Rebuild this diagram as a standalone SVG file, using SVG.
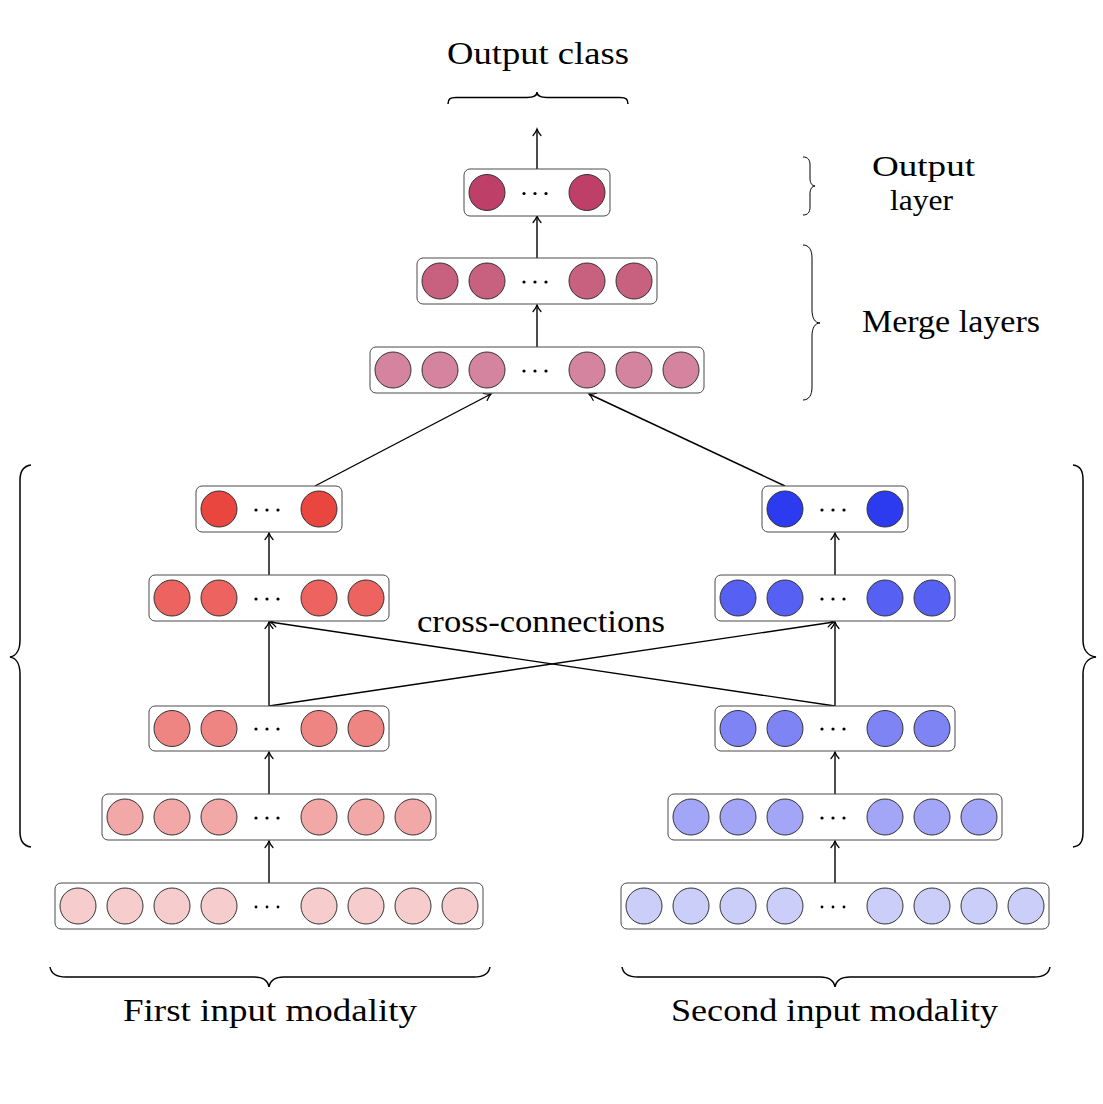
<svg xmlns="http://www.w3.org/2000/svg" width="1103" height="1104" viewBox="0 0 1103 1104">
<style>
.box{fill:#fff;stroke:#4a4a4a;stroke-width:1}
.n{stroke:#333;stroke-width:1}
.dot{fill:#000}
.lbl{font-family:"Liberation Serif","Times New Roman",serif;font-size:32px;fill:#000}
.c{fill:none;stroke:#000;stroke-width:1.4}
.br{fill:none;stroke:#000;stroke-width:1.5}
.brt{fill:none;stroke:#000;stroke-width:1}
.out{fill:#BE4068}.m2{fill:#C8607F}.m1{fill:#D4849E}
.r5{fill:#EA4640}.r4{fill:#EC635F}.r3{fill:#EF8583}.r2{fill:#F3A8A8}.r1{fill:#F7CCCD}
.b5{fill:#2C3AF0}.b4{fill:#5661F3}.b3{fill:#7F84F5}.b2{fill:#A3A6F7}.b1{fill:#CCCEFA}
</style>
<defs>
<marker id="ah" markerUnits="userSpaceOnUse" viewBox="-8 -5 10 10" refX="0" refY="0" markerWidth="10" markerHeight="10" orient="auto">
<path d="M-6.5,-4 C-4,-1.8 -1.5,-0.5 0,0 C-1.5,0.5 -4,1.8 -6.5,4" fill="none" stroke="#000" stroke-width="1.2" stroke-linecap="round"/>
</marker>
</defs>

<g id="connectors">
<line class="c" x1="269" y1="883" x2="269" y2="841" marker-end="url(#ah)"/>
<line class="c" x1="269" y1="794" x2="269" y2="752" marker-end="url(#ah)"/>
<line class="c" x1="269" y1="706" x2="269" y2="622" marker-end="url(#ah)"/>
<line class="c" x1="269" y1="575" x2="269" y2="533" marker-end="url(#ah)"/>
<line class="c" x1="835" y1="883" x2="835" y2="841" marker-end="url(#ah)"/>
<line class="c" x1="835" y1="794" x2="835" y2="752" marker-end="url(#ah)"/>
<line class="c" x1="835" y1="706" x2="835" y2="622" marker-end="url(#ah)"/>
<line class="c" x1="835" y1="575" x2="835" y2="533" marker-end="url(#ah)"/>
<line class="c" x1="269" y1="706" x2="834" y2="622" marker-end="url(#ah)"/>
<line class="c" x1="835" y1="706" x2="270" y2="622" marker-end="url(#ah)"/>
<line class="c" x1="315" y1="486" x2="491" y2="394" marker-end="url(#ah)"/>
<line class="c" x1="785" y1="486" x2="589" y2="394" marker-end="url(#ah)"/>
<line class="c" x1="537" y1="347" x2="537" y2="305" marker-end="url(#ah)"/>
<line class="c" x1="537" y1="258" x2="537" y2="216" marker-end="url(#ah)"/>
<line class="c" x1="537" y1="169" x2="537" y2="129" marker-end="url(#ah)"/>
</g>

<g id="left-input">
<rect class="box" x="55" y="883" width="428" height="46" rx="6"/>
<circle class="n r1" cx="78" cy="906" r="18"/><circle class="n r1" cx="125" cy="906" r="18"/><circle class="n r1" cx="172" cy="906" r="18"/><circle class="n r1" cx="219" cy="906" r="18"/>
<circle class="n r1" cx="319" cy="906" r="18"/><circle class="n r1" cx="366" cy="906" r="18"/><circle class="n r1" cx="413" cy="906" r="18"/><circle class="n r1" cx="460" cy="906" r="18"/>
<circle class="dot" cx="256" cy="907" r="1.4"/><circle class="dot" cx="267" cy="907" r="1.4"/><circle class="dot" cx="278" cy="907" r="1.4"/>
</g>
<g id="left-l1">
<rect class="box" x="102" y="794" width="334" height="46" rx="6"/>
<circle class="n r2" cx="125" cy="817" r="18"/><circle class="n r2" cx="172" cy="817" r="18"/><circle class="n r2" cx="219" cy="817" r="18"/>
<circle class="n r2" cx="319" cy="817" r="18"/><circle class="n r2" cx="366" cy="817" r="18"/><circle class="n r2" cx="413" cy="817" r="18"/>
<circle class="dot" cx="256" cy="818" r="1.6"/><circle class="dot" cx="267" cy="818" r="1.6"/><circle class="dot" cx="278" cy="818" r="1.6"/>
</g>
<g id="left-l2">
<rect class="box" x="149" y="706" width="240" height="45" rx="6"/>
<circle class="n r3" cx="172" cy="728.5" r="18"/><circle class="n r3" cx="219" cy="728.5" r="18"/>
<circle class="n r3" cx="319" cy="728.5" r="18"/><circle class="n r3" cx="366" cy="728.5" r="18"/>
<circle class="dot" cx="256" cy="729" r="1.6"/><circle class="dot" cx="267" cy="729" r="1.6"/><circle class="dot" cx="278" cy="729" r="1.6"/>
</g>
<g id="left-l3">
<rect class="box" x="149" y="575" width="240" height="46" rx="6"/>
<circle class="n r4" cx="172" cy="598" r="18"/><circle class="n r4" cx="219" cy="598" r="18"/>
<circle class="n r4" cx="319" cy="598" r="18"/><circle class="n r4" cx="366" cy="598" r="18"/>
<circle class="dot" cx="256" cy="599" r="1.6"/><circle class="dot" cx="267" cy="599" r="1.6"/><circle class="dot" cx="278" cy="599" r="1.6"/>
</g>
<g id="left-l4">
<rect class="box" x="196" y="486" width="146" height="46" rx="6"/>
<circle class="n r5" cx="219" cy="509" r="18"/><circle class="n r5" cx="319" cy="509" r="18"/>
<circle class="dot" cx="256" cy="510" r="1.6"/><circle class="dot" cx="267" cy="510" r="1.6"/><circle class="dot" cx="278" cy="510" r="1.6"/>
</g>

<g id="right-input">
<rect class="box" x="621" y="883" width="428" height="46" rx="6"/>
<circle class="n b1" cx="644" cy="906" r="18"/><circle class="n b1" cx="691" cy="906" r="18"/><circle class="n b1" cx="738" cy="906" r="18"/><circle class="n b1" cx="785" cy="906" r="18"/>
<circle class="n b1" cx="885" cy="906" r="18"/><circle class="n b1" cx="932" cy="906" r="18"/><circle class="n b1" cx="979" cy="906" r="18"/><circle class="n b1" cx="1026" cy="906" r="18"/>
<circle class="dot" cx="822" cy="907" r="1.4"/><circle class="dot" cx="833" cy="907" r="1.4"/><circle class="dot" cx="844" cy="907" r="1.4"/>
</g>
<g id="right-l1">
<rect class="box" x="668" y="794" width="334" height="46" rx="6"/>
<circle class="n b2" cx="691" cy="817" r="18"/><circle class="n b2" cx="738" cy="817" r="18"/><circle class="n b2" cx="785" cy="817" r="18"/>
<circle class="n b2" cx="885" cy="817" r="18"/><circle class="n b2" cx="932" cy="817" r="18"/><circle class="n b2" cx="979" cy="817" r="18"/>
<circle class="dot" cx="822" cy="818" r="1.6"/><circle class="dot" cx="833" cy="818" r="1.6"/><circle class="dot" cx="844" cy="818" r="1.6"/>
</g>
<g id="right-l2">
<rect class="box" x="715" y="706" width="240" height="45" rx="6"/>
<circle class="n b3" cx="738" cy="728.5" r="18"/><circle class="n b3" cx="785" cy="728.5" r="18"/>
<circle class="n b3" cx="885" cy="728.5" r="18"/><circle class="n b3" cx="932" cy="728.5" r="18"/>
<circle class="dot" cx="822" cy="729" r="1.6"/><circle class="dot" cx="833" cy="729" r="1.6"/><circle class="dot" cx="844" cy="729" r="1.6"/>
</g>
<g id="right-l3">
<rect class="box" x="715" y="575" width="240" height="46" rx="6"/>
<circle class="n b4" cx="738" cy="598" r="18"/><circle class="n b4" cx="785" cy="598" r="18"/>
<circle class="n b4" cx="885" cy="598" r="18"/><circle class="n b4" cx="932" cy="598" r="18"/>
<circle class="dot" cx="822" cy="599" r="1.6"/><circle class="dot" cx="833" cy="599" r="1.6"/><circle class="dot" cx="844" cy="599" r="1.6"/>
</g>
<g id="right-l4">
<rect class="box" x="762" y="486" width="146" height="46" rx="6"/>
<circle class="n b5" cx="785" cy="509" r="18"/><circle class="n b5" cx="885" cy="509" r="18"/>
<circle class="dot" cx="822" cy="510" r="1.6"/><circle class="dot" cx="833" cy="510" r="1.6"/><circle class="dot" cx="844" cy="510" r="1.6"/>
</g>

<g id="merge-1">
<rect class="box" x="370" y="347" width="334" height="46" rx="6"/>
<circle class="n m1" cx="393" cy="370" r="18"/><circle class="n m1" cx="440" cy="370" r="18"/><circle class="n m1" cx="487" cy="370" r="18"/>
<circle class="n m1" cx="587" cy="370" r="18"/><circle class="n m1" cx="634" cy="370" r="18"/><circle class="n m1" cx="681" cy="370" r="18"/>
<circle class="dot" cx="524" cy="371" r="1.6"/><circle class="dot" cx="535" cy="371" r="1.6"/><circle class="dot" cx="546" cy="371" r="1.6"/>
</g>
<g id="merge-2">
<rect class="box" x="417" y="258" width="240" height="46" rx="6"/>
<circle class="n m2" cx="440" cy="281" r="18"/><circle class="n m2" cx="487" cy="281" r="18"/>
<circle class="n m2" cx="587" cy="281" r="18"/><circle class="n m2" cx="634" cy="281" r="18"/>
<circle class="dot" cx="524" cy="282" r="1.6"/><circle class="dot" cx="535" cy="282" r="1.6"/><circle class="dot" cx="546" cy="282" r="1.6"/>
</g>
<g id="output">
<rect class="box" x="464" y="169" width="146" height="47" rx="6"/>
<circle class="n out" cx="487" cy="192.5" r="18"/><circle class="n out" cx="587" cy="192.5" r="18"/>
<circle class="dot" cx="524" cy="193.5" r="1.6"/><circle class="dot" cx="535" cy="193.5" r="1.6"/><circle class="dot" cx="546" cy="193.5" r="1.6"/>
</g>

<g id="braces">
<path class="br" d="M448,104 C448,99 450,97.5 456,97.5 L527,97.5 C534,97.5 537,95 537,92 C537,95 540,97.5 547,97.5 L620,97.5 C626,97.5 628,99 628,104"/>
<path class="brt" d="M803,157 C808,157 810,160 810,165 L810,178 C810,183 812,186 815,186 C812,186 810,189 810,194 L810,207 C810,212 808,215 803,215"/>
<path class="brt" d="M803,245 C809,245 812,250 812,258 L812,310 C812,318 815,323 820,323 C815,323 812,328 812,336 L812,387 C812,395 809,400 803,400"/>
<path class="br" d="M31,465 C24,466 20,470 20,480 L20,640 C20,650 16,656 10,657 C16,658 20,664 20,674 L20,832 C20,842 24,846 31,847"/>
<path class="br" d="M1073,465 C1080,466 1083,470 1083,480 L1083,640 C1083,650 1088,656 1096,657 C1088,658 1083,664 1083,674 L1083,832 C1083,842 1080,846 1073,847"/>
<path class="br" d="M50,967 C51,973 56,977 66,977 L254,977 C264,977 268,981 269,987 C270,981 274,977 284,977 L474,977 C484,977 489,973 490,967"/>
<path class="br" d="M622,967 C623,973 628,977 638,977 L820,977 C830,977 834,981 835,987 C836,981 840,977 850,977 L1034,977 C1044,977 1049,973 1050,967"/>
</g>

<g id="labels">
<text class="lbl" x="447" y="64" textLength="182" lengthAdjust="spacingAndGlyphs">Output class</text>
<text class="lbl" style="font-size:30px"><tspan x="872" y="176" textLength="103" lengthAdjust="spacingAndGlyphs">Output</tspan><tspan x="890" y="209.5" textLength="63" lengthAdjust="spacingAndGlyphs">layer</tspan></text>
<text class="lbl" x="862" y="332" textLength="178" lengthAdjust="spacingAndGlyphs">Merge layers</text>
<text class="lbl" x="417" y="632" textLength="248" lengthAdjust="spacingAndGlyphs">cross-connections</text>
<text class="lbl" x="123" y="1021" textLength="294" lengthAdjust="spacingAndGlyphs">First input modality</text>
<text class="lbl" x="671" y="1021" textLength="327" lengthAdjust="spacingAndGlyphs">Second input modality</text>
</g>
</svg>
